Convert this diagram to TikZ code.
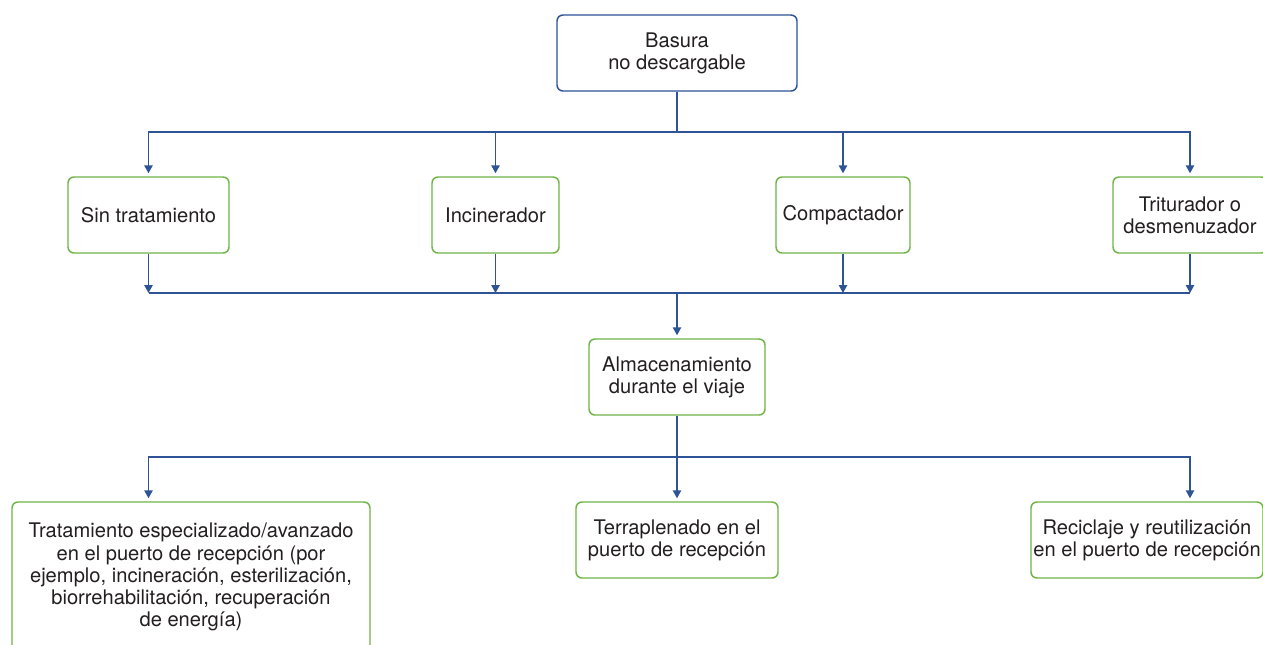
\documentclass[tikz,border=0pt]{standalone}
\usepackage{fontspec}
\setmainfont{TeX Gyre Heros}
\usetikzlibrary{arrows.meta,calc}
\definecolor{lineblue}{RGB}{46,84,150}
\definecolor{boxgreen}{RGB}{110,180,70}
\definecolor{txtgray}{RGB}{35,31,32}
\begin{document}
\begin{tikzpicture}[x=0.75pt,y=-0.75pt,
  box/.style={draw=boxgreen, line width=1.1pt, rounded corners=4.5pt, fill=white,
    text=txtgray, align=center, font=\fontsize{15.1}{16.6}\selectfont, inner sep=0pt,
    minimum height=57pt},
  topbox/.style={box, draw=lineblue},
  conn/.style={draw=lineblue, line width=1.1pt},
  arr/.style={conn, -{Triangle[width=6.3pt,length=6pt]}},
  gap/.style={shorten >=2.25pt}
]
\useasboundingbox (0,0) rectangle (1263,644);
\clip (0,0) rectangle (1263,644);
\fill[white] (0,0) rectangle (1263,644);

% nodes
\node[topbox, minimum width=180pt] (top) at (677,53) {Basura\\no descargable};
\node[box, minimum width=120.75pt] (sin) at (148.5,215) {Sin tratamiento};
\node[box, minimum width=95.25pt] (inc) at (495.5,215) {Incinerador};
\node[box, minimum width=100.5pt] (comp) at (843,215) {Compactador};
\node[box, minimum width=115.5pt] (trit) at (1190,215) {Triturador o\\desmenuzador};
\node[box, minimum width=132pt] (alm) at (677,377) {Almacenamiento\\durante el viaje};
\node[box, minimum width=268.5pt, minimum height=112.5pt] (trat) at (191,577)
  {Tratamiento especializado/avanzado\\en el puerto de recepción (por\\ejemplo, incineración, esterilización,\\biorrehabilitación, recuperación\\de energía)};
\node[box, minimum width=151.5pt] (terr) at (677,540) {Terraplenado en el\\puerto de recepción};
\node[box, minimum width=174pt] (recic) at (1147,540) {Reciclaje y reutilización\\en el puerto de recepción};

% junctions
\coordinate (j1) at (677,132);
\coordinate (j2) at (677,293);
\coordinate (j3) at (677,457);

% connectors
\draw[conn] (top.south) -- (j1);
\draw[arr, gap] (j1) -| (sin.north);
\draw[arr, gap] (j1) -| (inc.north);
\draw[arr, gap] (j1) -| (comp.north);
\draw[arr, gap] (j1) -| (trit.north);

\draw[conn] (sin.south |- j2) -- (trit.south |- j2);
\foreach \n in {sin,inc,comp,trit}
  \draw[arr] (\n.south) -- (\n.south |- j2);
\draw[arr, gap] (j2) -- (alm.north);

\draw[conn] (alm.south) -- (j3);
\draw[arr, gap] (j3) -| (sin.center |- trat.north);
\draw[arr, gap] (j3) -- (terr.north);
\draw[arr, gap] (j3) -| (trit.center |- recic.north);
\end{tikzpicture}
\end{document}
